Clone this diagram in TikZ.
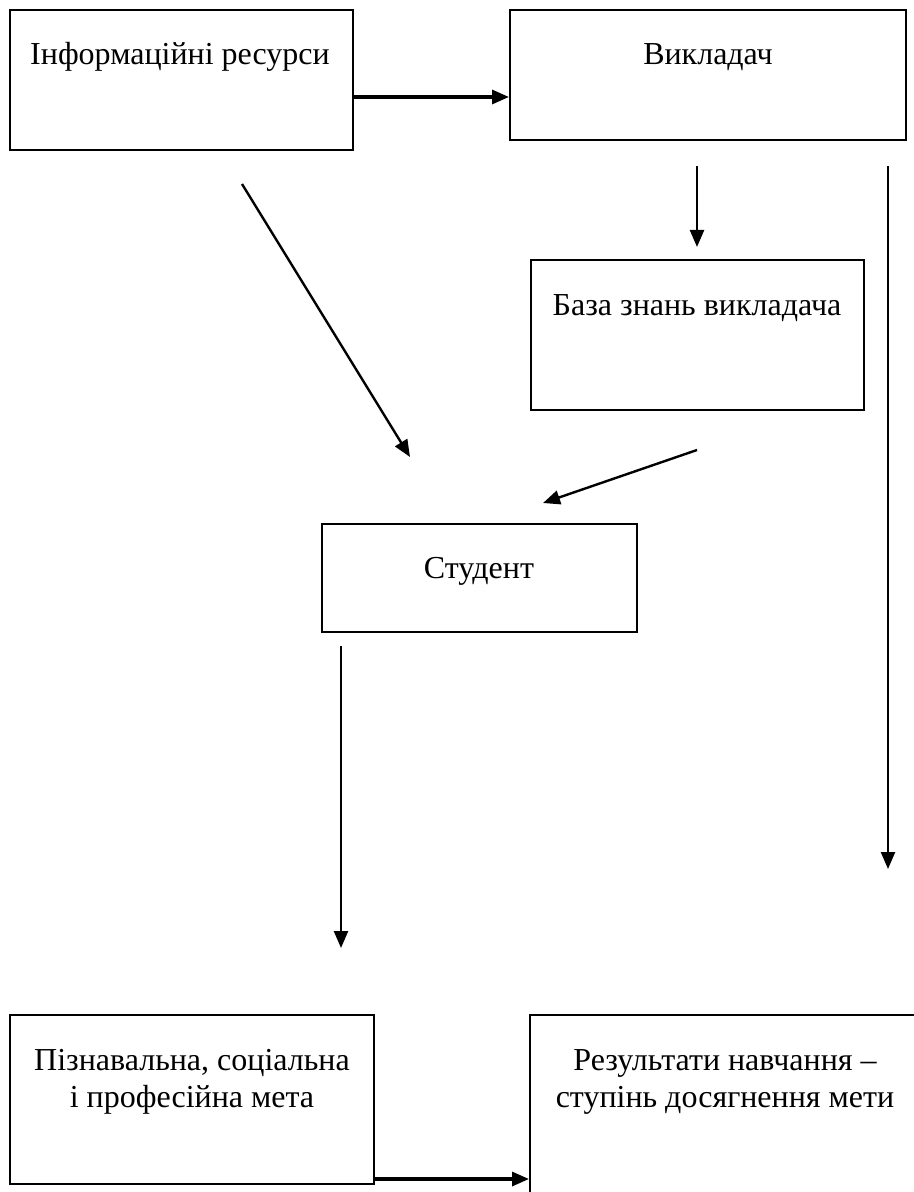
\documentclass[tikz,border=0pt]{standalone}
\usepackage{fontspec}
\setmainfont{Liberation Serif}
\usetikzlibrary{arrows.meta,fit}
\begin{document}
\begin{tikzpicture}[x=0.5pt,y=-0.5pt,
  box/.style={draw,line width=1pt,inner sep=0pt},
  lbl/.style={anchor=base,inner sep=0pt,align=center,font=\fontsize{16}{18.5}\selectfont},
  conn/.style={line width=1.2pt,-{Triangle[length=8.5pt,width=7pt]}},
  thick conn/.style={conn,line width=1.6pt}]
\clip (0,0) rectangle (914,1192);
\fill[white] (0,0) rectangle (914,1192);
% boxes
\node[box,fit={(10,10) (353,150)}] (info) {};
\node[box,fit={(510,10) (906,140)}] (teach) {};
\node[box,fit={(531,260) (864,410)}] (base) {};
\node[box,fit={(322,524) (637,632)}] (stud) {};
\node[box,fit={(10,1015) (374,1184)}] (goal) {};
\node[box,fit={(530,1015) (940,1230)}] (res) {};
% texts
\node[lbl] (infoT) at (180,65) {Інформаційні ресурси};
\node[lbl] (teachT) at (708,65) {Викладач};
\node[lbl] (baseT) at (697,315) {База знань викладача};
\node[lbl] (studT) at (479,578) {Студент};
\node[lbl] (goalT) at (192,1107) {Пізнавальна, соціальна\\і професійна мета};
\node[lbl] (resT) at (725,1107) {Результати навчання –\\ступінь досягнення мети};
% free ends
\coordinate (a1s) at (242,184);
\coordinate (a1e) at (410,457);
\coordinate (a2s) at (697,166);
\coordinate (a2e) at (697,247);
\coordinate (a3s) at (888,166);
\coordinate (a3e) at (888,869);
\coordinate (a4s) at (697,450);
\coordinate (a4e) at (543,503);
\coordinate (a5s) at (341,646);
\coordinate (a5e) at (341,948);
% connectors
\draw[thick conn] (info.east |- 0,97) -- (teach.west |- 0,97);
\draw[conn] (a1s) -- (a1e);
\draw[conn] (a2s) -- (a2e);
\draw[conn] (a3s) -- (a3e);
\draw[conn] (a4s) -- (a4e);
\draw[conn] (a5s) -- (a5e);
\draw[thick conn] (goal.east |- 0,1179) -- (res.west |- 0,1179);
\end{tikzpicture}
\end{document}
